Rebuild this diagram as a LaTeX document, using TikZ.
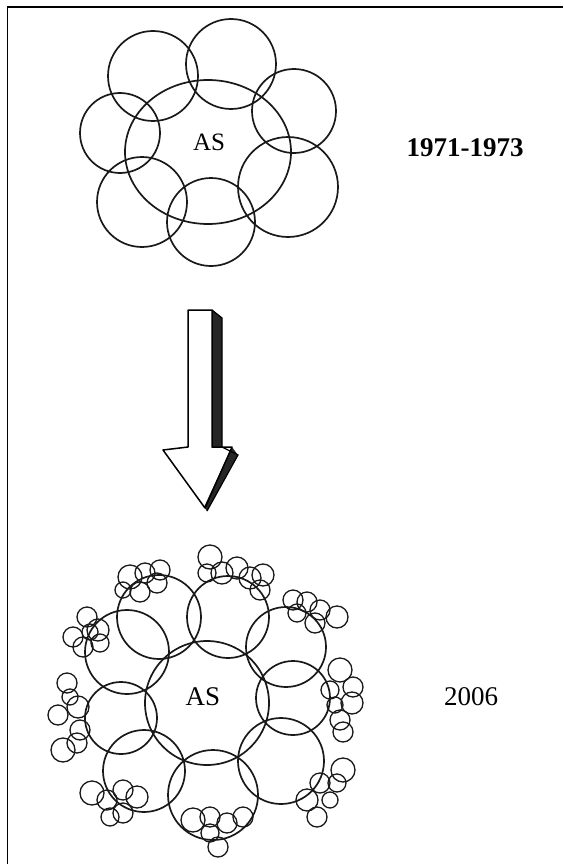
\documentclass[tikz,border=0pt]{standalone}
\usepackage{fontspec}
\setmainfont{Liberation Serif}
\begin{document}
\begin{tikzpicture}[x=1pt,y=-1pt,
  ring/.style={draw=black!90, line width=1.7pt},
  bud/.style={draw=black!90, line width=1.3pt},
  lbl/.style={inner sep=0pt, font=\fontsize{25}{28}\selectfont},
  yr/.style={inner sep=0pt, font=\fontsize{27}{30}\selectfont}]
\useasboundingbox (0,0) rectangle (563,864);
% frame (top and left)
\draw[line width=1.5pt] (7.5,864) -- (7.5,7) -- (563,7);

% ---------- 1971-1973 cluster ----------
\draw[ring] (208,152) ellipse [x radius=83, y radius=72];
\draw[ring] (153,76) circle (45);
\draw[ring] (231,64) circle (45);
\draw[ring] (294,111) circle (42);
\draw[ring] (288,187) circle (50);
\draw[ring] (211,222) circle (44);
\draw[ring] (142,202) circle (45);
\draw[ring] (120,133) circle (40);
\node[lbl] (as1) at (209,142) {AS};
\node[yr, font=\fontsize{27}{30}\selectfont\bfseries] (y1) at (465,148) {1971-1973};

% ---------- arrow ----------
\fill[black!85] (212,310) -- (222,318) -- (222,447) -- (212,447) -- cycle;
\fill[black!85] (232,447) -- (238,455) -- (207,511) -- (204,507) -- cycle;
\draw[line width=1.5pt, line join=round] (188,310) -- (212,310) -- (212,447) -- (232,447)
  -- (205,508) -- (163,450) -- (188,447) -- cycle;
\draw[line width=1.2pt] (212,310) -- (222,318) -- (222,447) -- (238,455) -- (207,511);

% ---------- 2006 cluster ----------
\draw[ring] (207,703) circle (62);
\draw[ring] (228,617) circle (41);
\draw[ring] (159,617) circle (42);
\draw[ring] (127,652) circle (42);
\draw[ring] (121,718) circle (36);
\draw[ring] (144,771) circle (41);
\draw[ring] (213,795) circle (45);
\draw[ring] (281,761) circle (43);
\draw[ring] (293,698) circle (37);
\draw[ring] (286,647) circle (40);

% small circles
\foreach \x/\y/\r in {
  130/577/12, 145/573/10, 160/570/10, 140/592/10, 157/583/10, 123/590/8,
  210/557/12, 222/573/11, 237/568/11, 250/578/11, 263/575/11, 260/590/10, 207/573/9,
  293/600/10, 307/602/10, 320/610/10, 337/617/11, 315/623/10, 297/613/9,
  340/670/12, 353/687/10, 352/703/11, 340/720/10, 343/732/10, 330/690/9, 335/705/8,
  343/770/12, 320/783/10, 307/800/11, 317/817/10, 337/783/9, 330/800/8,
  193/820/12, 210/817/10, 227/823/10, 243/817/10, 218/847/10, 210/833/9,
  92/793/12, 107/800/10, 123/790/10, 137/797/11, 123/813/10, 110/817/9,
  67/683/10, 58/715/10, 78/707/11, 80/730/10, 63/750/12, 77/743/10, 70/697/8,
  87/617/10, 73/637/10, 98/630/11, 83/647/10, 100/643/9, 90/632/8}
  \draw[bud] (\x,\y) circle (\r);

\node[lbl, font=\fontsize{27}{30}\selectfont] (as2) at (203,697) {AS};
\node[yr] (y2) at (471,697) {2006};
\end{tikzpicture}
\end{document}
